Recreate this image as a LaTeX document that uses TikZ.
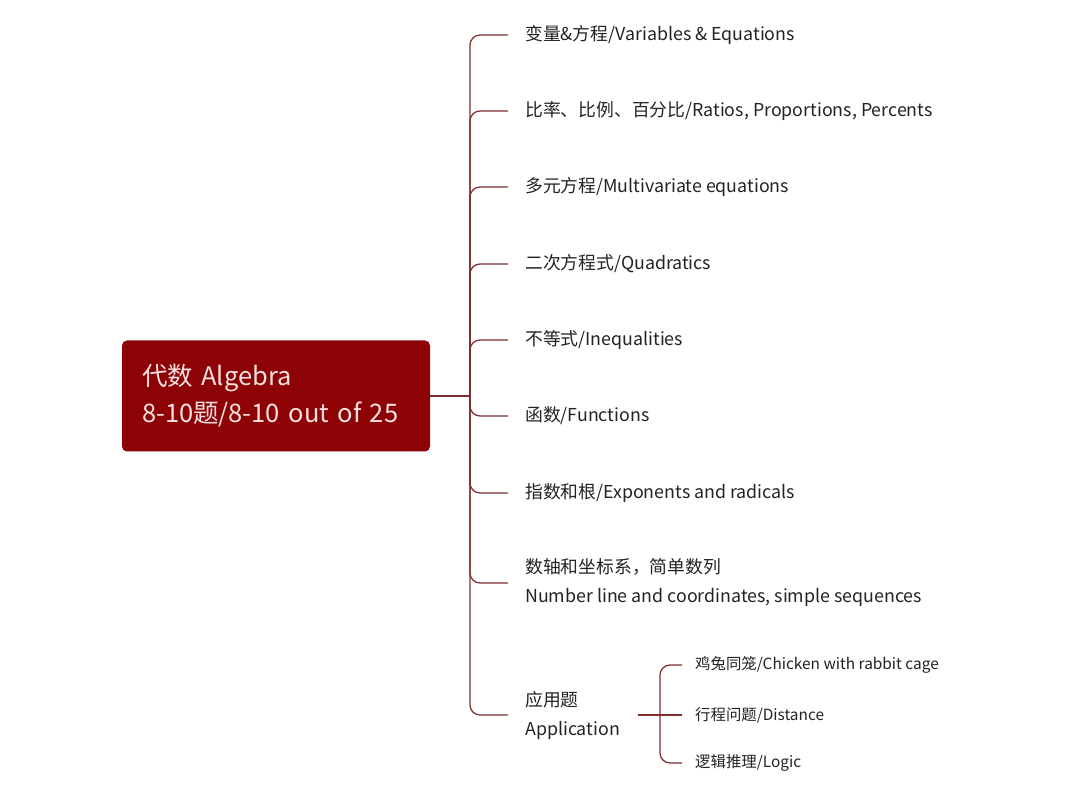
\documentclass[tikz,border=0pt]{standalone}
\usepackage{fontspec}
\setmainfont{Noto Sans CJK SC}
\begin{document}
\begin{tikzpicture}[x=1pt,y=-1pt,
  link/.style={draw={rgb,255:red,125;green,45;blue,45}, line width=1.2pt, rounded corners=10pt},
  topic/.style={anchor=west, inner sep=0pt, text={rgb,255:red,35;green,35;blue,35}, font=\fontsize{17.8}{29}\selectfont, align=left},
  subtopic/.style={anchor=west, inner sep=0pt, text={rgb,255:red,35;green,35;blue,35}, font=\fontsize{15.4}{20}\selectfont},
  centerbox/.style={fill={rgb,255:red,140;green,2;blue,5}, rounded corners=5pt, minimum width=308pt, minimum height=111pt, text width=268pt, inner xsep=20pt, align=left, text={rgb,255:red,250;green,225;blue,225}, font=\fontsize{25.5}{37}\selectfont}
]
\useasboundingbox[fill=white] (0,0) rectangle (1080,791);
\node[centerbox] (root) at (276,396) {代数 Algebra\\8-10题/8-10 out of 25};
\coordinate (hub) at (470,396);
\node[topic] (t1) at (525,35) {变量\&方程/Variables \& Equations};
\node[topic] (t2) at (525,111) {比率、比例、百分比/Ratios, Proportions, Percents};
\node[topic] (t3) at (525,187) {多元方程/Multivariate equations};
\node[topic] (t4) at (525,264) {二次方程式/Quadratics};
\node[topic] (t5) at (525,340) {不等式/Inequalities};
\node[topic] (t6) at (525,416) {函数/Functions};
\node[topic] (t7) at (525,493) {指数和根/Exponents and radicals};
\node[topic] (t8) at (525,583) {数轴和坐标系，简单数列\\Number line and coordinates, simple sequences};
\node[topic] (t9) at (525,715) {应用题\\Application};
\draw[link] (root.east) -- (hub);
\foreach \i in {1,...,9} {
  \draw[link] (hub) |- ([xshift=-17pt]t\i.west);
}
\coordinate (subhub) at (660,715);
\node[subtopic] (s1) at (695,665) {鸡兔同笼/Chicken with rabbit cage};
\node[subtopic] (s2) at (695,715) {行程问题/Distance};
\node[subtopic] (s3) at (695,763) {逻辑推理/Logic};
\draw[link] ([xshift=18pt]t9.east) -- ([xshift=-13pt]s2.west);
\foreach \i in {1,3} {
  \draw[link] (subhub) |- ([xshift=-13pt]s\i.west);
}
\end{tikzpicture}
\end{document}
